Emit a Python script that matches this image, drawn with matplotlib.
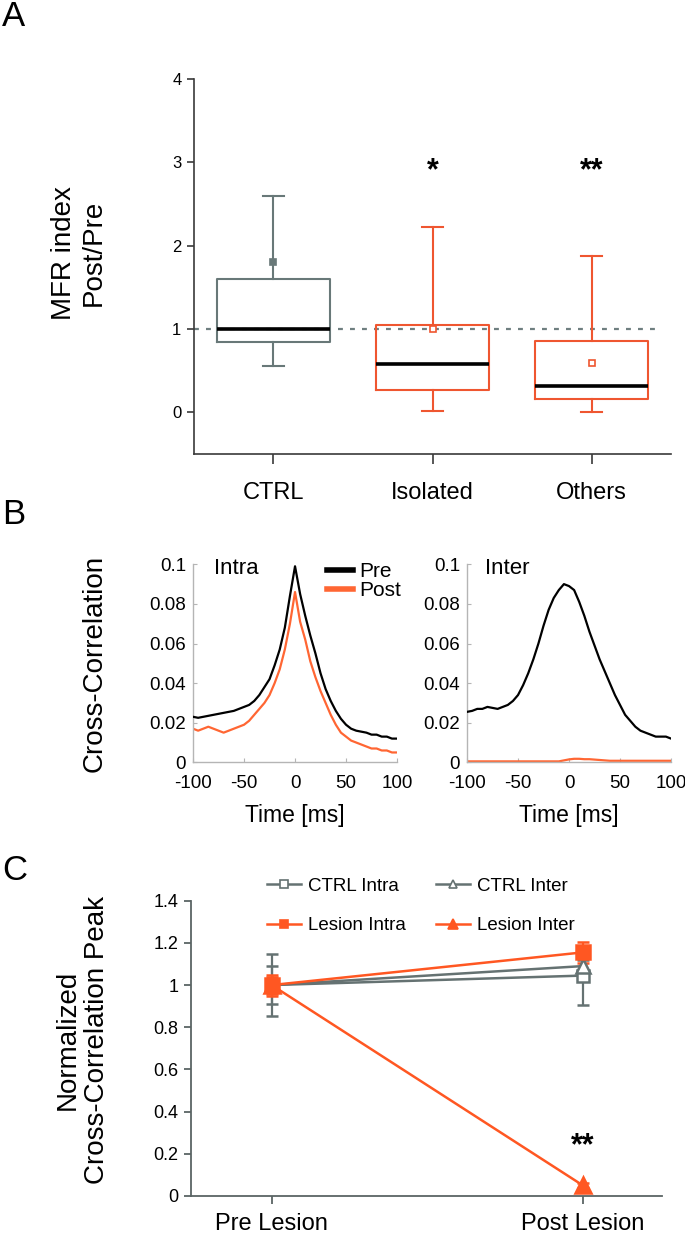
import matplotlib.pyplot as plt
from matplotlib.lines import Line2D

plt.rcParams['font.family'] = ['Liberation Sans', 'DejaVu Sans']

# ---- Panel A : MFR index Post/Pre (box summary)
groups = ['CTRL', 'Isolated', 'Others']
box_q1 = [0.84, 0.27, 0.165]
box_med = [1.0, 0.585, 0.315]
box_q3 = [1.605, 1.05, 0.855]
whisk_lo = [0.55, 0.01, 0.0]
whisk_hi = [2.60, 2.22, 1.875]
box_mean = [1.80, 1.0, 0.59]
stars_a = ['', '*', '**']
yticks_a = [0, 1, 2, 3, 4]

# ---- Panel B : cross-correlograms
lag_ms = list(range(-100, 101, 5))
intra_pre = [.023, .0225, .023, .0235, .024, .0245, .025, .0255, .026, .027,
             .028, .029, .031, .034, .038, .042, .049, .057, .068, .084,
             .099, .085, .074, .064, .055, .045, .037, .031, .026, .022,
             .019, .017, .016, .0155, .015, .014, .014, .013, .013, .012, .012]
intra_post = [.017, .016, .017, .018, .017, .016, .015, .016, .017, .018,
              .019, .021, .024, .027, .030, .034, .040, .047, .057, .070,
              .086, .071, .062, .051, .043, .036, .030, .024, .019, .015,
              .013, .011, .010, .009, .008, .007, .007, .006, .006, .005, .005]
inter_pre = [.0255, .026, .027, .027, .028, .0275, .027, .028, .029, .031,
             .034, .039, .045, .052, .060, .069, .077, .083, .087, .090,
             .089, .087, .081, .074, .066, .059, .052, .046, .040, .034,
             .029, .024, .021, .018, .016, .015, .014, .013, .013, .013, .012]
inter_post = [.0005, .0005, .0005, .0005, .0005, .0005, .0005, .0005, .0005, .0005,
              .0005, .0005, .0005, .0005, .0005, .0005, .0005, .0005, .0005, .001,
              .0015, .0018, .0018, .0016, .0016, .0014, .0012, .001, .0008, .0008,
              .0008, .0008, .0008, .0008, .0008, .0008, .0008, .0008, .0008, .0008, .0008]
xticks_b = [-100, -50, 0, 50, 100]
xticklabels_b = ['-100', '-50', '0', '50', '100']
yticks_b = [0, 0.02, 0.04, 0.06, 0.08, 0.1]
yticklabels_b = ['0', '0.02', '0.04', '0.06', '0.08', '0.1']

# ---- Panel C : normalized cross-correlation peak
conditions = ['Pre Lesion', 'Post Lesion']
ctrl_intra = [1.0, 1.045]
ctrl_intra_err = [0.145, 0.14]
ctrl_inter = [1.0, 1.09]
ctrl_inter_err = [0.09, 0.03]
lesion_intra = [1.0, 1.155]
lesion_intra_err = [0.04, 0.05]
lesion_inter = [1.0, 0.05]
lesion_inter_err = [0.05, 0.01]
yticks_c = [0, 0.2, 0.4, 0.6, 0.8, 1.0, 1.2, 1.4]
yticklabels_c = ['0', '0.2', '0.4', '0.6', '0.8', '1', '1.2', '1.4']

RED_A = '#ef5630'
GRAY_A = '#687878'
ORANGE_B = '#ff6633'
ORANGE_C = '#ff5722'
GRAY_C = '#657272'
AX_DARK = '#3a3a3a'

fig = plt.figure(figsize=(6.85, 12.34), dpi=100)

# ================= A
ax = fig.add_axes([0.2832, 0.6321, 0.6964, 0.3039])
pos = [1, 2, 3]
stats = []
for i, g in enumerate(groups):
    stats.append(dict(label=g, med=box_med[i], q1=box_q1[i], q3=box_q3[i],
                      whislo=whisk_lo[i], whishi=whisk_hi[i], mean=box_mean[i], fliers=[]))
ax.axhline(1, xmin=0, xmax=(3.42 - 0.5) / 3.0, color='#6f7f80', lw=1.6,
           ls=(0, (2.2, 3.2)), zorder=1)
for i in range(3):
    c = GRAY_A if i == 0 else RED_A
    mfc = GRAY_A if i == 0 else 'white'
    ax.bxp([stats[i]], positions=[pos[i]], widths=0.71, capwidths=0.13,
           showmeans=True, showfliers=False,
           boxprops=dict(color=c, lw=1.5),
           whiskerprops=dict(color=c, lw=1.5),
           capprops=dict(color=c, lw=1.5),
           medianprops=dict(color='black', lw=2.6),
           meanprops=dict(marker='s', markersize=4, markerfacecolor=mfc,
                          markeredgecolor=c, markeredgewidth=1.2))
for i, s in enumerate(stars_a):
    if s:
        ax.text(pos[i], 2.80, s, ha='center', va='baseline', fontsize=22,
                fontweight='bold')
ax.set_xlim(0.5, 3.5)
ax.set_ylim(-0.5, 4)
ax.set_xticks(pos)
ax.set_xticklabels(groups, fontsize=17)
ax.set_yticks(yticks_a)
ax.set_yticklabels([str(v) for v in yticks_a], fontsize=12)
ax.spines['top'].set_visible(False)
ax.spines['right'].set_visible(False)
ax.spines['left'].set_bounds(-0.5, 4)
for sp in ['left', 'bottom']:
    ax.spines[sp].set_color(AX_DARK)
    ax.spines[sp].set_linewidth(1.2)
ax.tick_params(axis='x', direction='out', length=7, width=1.2, color=AX_DARK, pad=13)
ax.tick_params(axis='y', direction='out', length=5, width=1.2, color=AX_DARK, pad=4)
fig.text(0.1146, 1 - 253 / 1234, 'MFR index\nPost/Pre', rotation=90, ha='center',
         va='center', fontsize=20, multialignment='center')

# ================= B
axb1 = fig.add_axes([0.2818, 0.3822, 0.2978, 0.1605])
axb2 = fig.add_axes([0.6818, 0.3822, 0.2978, 0.1605])
axb1.plot(lag_ms, intra_pre, color='black', lw=1.6, zorder=3)
axb1.plot(lag_ms, intra_post, color=ORANGE_B, lw=1.6, zorder=2)
axb2.plot(lag_ms, inter_pre, color='black', lw=1.6, zorder=3)
axb2.plot(lag_ms, inter_post, color=ORANGE_B, lw=1.6, zorder=2)
for a, title, tx in [(axb1, 'Intra', 0.103), (axb2, 'Inter', 0.088)]:
    a.set_xlim(-100, 100)
    a.set_ylim(0, 0.1)
    a.set_xticks(xticks_b)
    a.set_xticklabels(xticklabels_b, fontsize=13.5)
    a.set_yticks(yticks_b)
    a.set_yticklabels(yticklabels_b, fontsize=13.5)
    a.spines['top'].set_visible(False)
    a.spines['right'].set_visible(False)
    for sp in ['left', 'bottom']:
        a.spines[sp].set_color('#b5b5b5')
        a.spines[sp].set_linewidth(1.0)
    a.tick_params(direction='in', length=3, width=0.8, color='#b5b5b5', pad=5)
    a.tick_params(axis='x', pad=9)
    a.set_xlabel('Time [ms]', fontsize=16.5, labelpad=9)
    a.text(tx, 0.98, title, transform=a.transAxes, ha='left', va='center', fontsize=16)
leg_b = axb1.legend(handles=[Line2D([], [], color='black', lw=4, label='Pre'),
                             Line2D([], [], color=ORANGE_B, lw=4, label='Post')],
                    loc='upper left', bbox_to_anchor=(0.655, 1.01), frameon=False,
                    fontsize=15, handlelength=1.25, handletextpad=0.3,
                    labelspacing=0.0, borderpad=0, borderaxespad=0)
fig.text(0.1387, 1 - 663 / 1234, 'Cross-Correlation', rotation=90, ha='center',
         va='center', fontsize=20)

# ================= C
axc = fig.add_axes([0.2784, 0.0308, 0.6880, 0.2393])
xc = [1, 2]
series = [
    (ctrl_intra, ctrl_intra_err, GRAY_C, 's', 'white', 9, 'CTRL Intra'),
    (ctrl_inter, ctrl_inter_err, GRAY_C, '^', 'white', 10, 'CTRL Inter'),
    (lesion_intra, lesion_intra_err, ORANGE_C, 's', ORANGE_C, 10, 'Lesion Intra'),
    (lesion_inter, lesion_inter_err, ORANGE_C, '^', ORANGE_C, 12, 'Lesion Inter'),
]
handles_c = []
for vals, errs, col, mk, fc, ms, lab in series:
    axc.errorbar(xc, vals, yerr=errs, color=col, lw=1.8, elinewidth=1.6, capsize=4,
                 capthick=1.6, marker=mk, markersize=ms, markerfacecolor=fc,
                 markeredgecolor=col, markeredgewidth=1.8)
    handles_c.append(Line2D([], [], color=col, lw=1.8, marker=mk, markersize=ms * 0.6,
                            markerfacecolor=fc, markeredgecolor=col,
                            markeredgewidth=1.2, label=lab))
axc.text(2, 0.2, '**', ha='center', va='baseline', fontsize=22, fontweight='bold')
axc.legend(handles=[handles_c[0], handles_c[2], handles_c[1], handles_c[3]], ncol=2,
           loc='upper left', bbox_to_anchor=(0.162, 1.078), frameon=False,
           fontsize=13.5, handlelength=1.8, handletextpad=0.4, columnspacing=1.6,
           labelspacing=1.2, borderpad=0, borderaxespad=0)
axc.set_xlim(0.74, 2.254)
axc.set_ylim(0, 1.4)
axc.set_xticks(xc)
axc.set_xticklabels(conditions, fontsize=17)
axc.set_yticks(yticks_c)
axc.set_yticklabels(yticklabels_c, fontsize=13)
axc.spines['top'].set_visible(False)
axc.spines['right'].set_visible(False)
for sp in ['left', 'bottom']:
    axc.spines[sp].set_color('#5a6464')
    axc.spines[sp].set_linewidth(1.3)
axc.tick_params(axis='x', direction='out', length=6, width=1.3, color='#5a6464', pad=6)
axc.tick_params(axis='y', direction='out', length=5, width=1.3, color='#5a6464', pad=4)
fig.text(0.1204, 1 - 1040 / 1234, 'Normalized\nCross-Correlation Peak', rotation=90,
         ha='center', va='center', fontsize=20, multialignment='center')

# panel letters
fig.text(0.003, 1 - 17 / 1234, 'A', fontsize=25, ha='left', va='center')
fig.text(0.003, 1 - 515 / 1234, 'B', fontsize=25, ha='left', va='center')
fig.text(0.003, 1 - 870 / 1234, 'C', fontsize=25, ha='left', va='center')

fig.savefig('out.png', dpi=100)
plt.close(fig)
